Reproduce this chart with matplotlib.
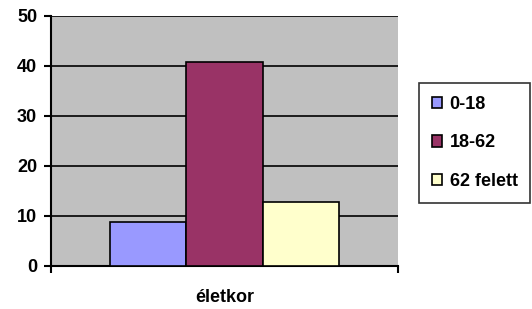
import matplotlib
matplotlib.use("Agg")
import matplotlib.pyplot as plt
from matplotlib.patches import Patch

categories = ["életkor"]
series_names = ["0-18", "18-62", "62 felett"]
series_values = [8.8, 40.8, 12.8]
colors = ["#9999ff", "#993366", "#ffffcc"]
yticks = [0, 10, 20, 30, 40, 50]

plt.rcParams['font.family'] = ['Liberation Sans', 'DejaVu Sans']
plt.rcParams['font.weight'] = 'bold'
fig = plt.figure(figsize=(5.32, 3.09), dpi=100)
ax = fig.add_axes([51/532, 1-266/309, 347/532, 250/309])
ax.set_facecolor("#c0c0c0")

width = 0.22
offsets = [-width, 0, width]
for name, v, c, o in zip(series_names, series_values, colors, offsets):
    ax.bar(0 + o, v, width=width, color=c, edgecolor="black", linewidth=1.2, zorder=3, label=name)

ax.set_ylim(0, 50)
ax.set_xlim(-0.5, 0.5)
ax.set_yticks(yticks)
ax.yaxis.grid(True, color="black", linewidth=1.2, zorder=1)
ax.set_axisbelow(True)
for s in ["top", "right"]:
    ax.spines[s].set_visible(False)
ax.spines["left"].set_linewidth(1.5)
ax.spines["bottom"].set_linewidth(1.5)
ax.tick_params(axis="y", direction="out", length=5, width=1.5, labelsize=13, pad=5)
ax.set_xticks([-0.5, 0.5])
ax.set_xticklabels(["", ""])
ax.tick_params(axis="x", direction="out", length=5, width=1.5)
ax.text(0, -32/250, categories[0], transform=ax.get_xaxis_transform(), ha="center", va="center",
        fontsize=13, fontweight="bold")

handles = [Patch(facecolor=c, edgecolor="black", linewidth=1.2) for c in colors]
leg = fig.legend(handles, series_names, loc="upper left", bbox_to_anchor=(419/532, 1-83/309),
                 frameon=True, fancybox=False, edgecolor="black", handlelength=0.6, handleheight=0.6,
                 handletextpad=0.4, labelspacing=1.2, borderpad=0.7, borderaxespad=0,
                 prop={"weight": "bold", "size": 13})
leg.get_frame().set_linewidth(1.2)

fig.savefig("out.png", dpi=100)
